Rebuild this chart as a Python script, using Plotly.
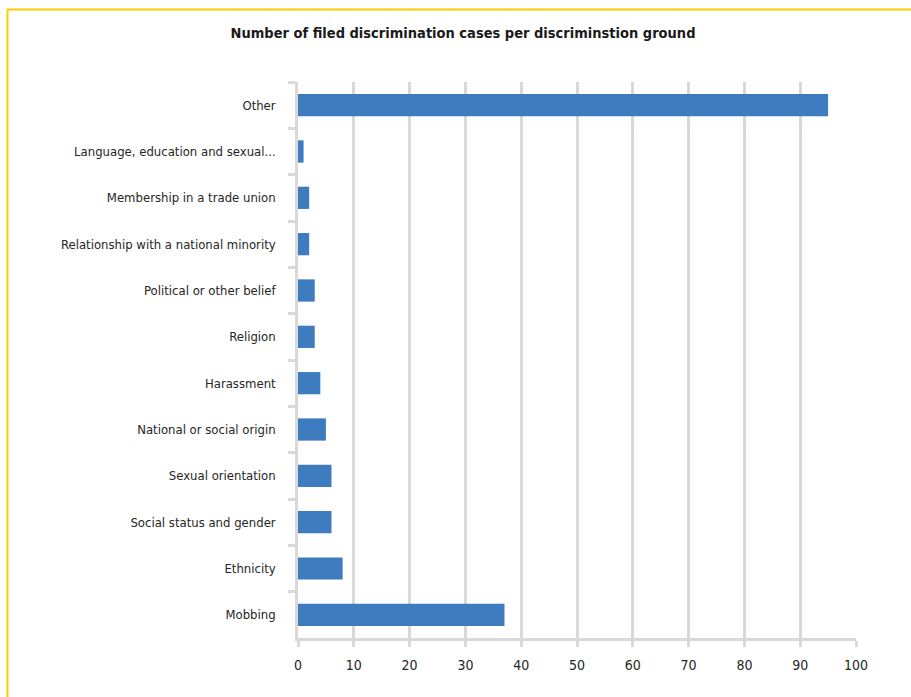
import plotly.graph_objects as go

categories = [
    "Other",
    "Language, education and sexual...",
    "Membership in a trade union",
    "Relationship with a national minority",
    "Political or other belief",
    "Religion",
    "Harassment",
    "National or social origin",
    "Sexual orientation",
    "Social status and gender",
    "Ethnicity",
    "Mobbing",
]
cases = [95, 1, 2, 2, 3, 3, 4, 5, 6, 6, 8, 37]
x_ticks = [0, 10, 20, 30, 40, 50, 60, 70, 80, 90, 100]
title_text = "Number of filed discrimination cases per discriminstion ground"

W, H = 911, 697
ML, MR, MT, MB = 298, 55, 82, 59
FONT = "DejaVu Sans Condensed, Liberation Sans Narrow, sans-serif"
GRID = "#d9d9d9"

fig = go.Figure(
    go.Bar(
        x=cases,
        y=categories,
        orientation="h",
        marker=dict(color="#3E7BBF", line=dict(width=0)),
        hoverinfo="x+y",
    )
)

pw = W - ML - MR
ph = H - MT - MB


def px_to_paper(px, py):
    return (px - ML) / pw, (H - MB - py) / ph


x0, y0 = px_to_paper(7.5, 9.5)
x1, y1 = px_to_paper(W + 20, H + 20)

fig.update_layout(
    width=W,
    height=H,
    margin=dict(l=ML, r=MR, t=MT, b=MB),
    paper_bgcolor="white",
    plot_bgcolor="white",
    bargap=0.52,
    showlegend=False,
    font=dict(family=FONT, size=13, color="#262626"),
    title=dict(
        text="<b>" + title_text + "</b>",
        x=463 / W,
        xanchor="center",
        y=1 - 33 / H,
        yanchor="middle",
        xref="container",
        yref="container",
        font=dict(family=FONT, size=14.5, color="#1a1a1a"),
    ),
    xaxis=dict(
        range=[0, 100],
        tickvals=x_ticks,
        ticktext=[str(v) for v in x_ticks],
        showgrid=True,
        gridcolor=GRID,
        gridwidth=2.5,
        showline=True,
        linecolor=GRID,
        linewidth=2.5,
        ticks="outside",
        ticklen=6,
        tickwidth=2.5,
        tickcolor=GRID,
        ticklabelstandoff=6,
        tickfont=dict(size=14),
        zeroline=False,
        fixedrange=True,
    ),
    yaxis=dict(
        type="category",
        categoryorder="array",
        categoryarray=categories,
        autorange="reversed",
        showgrid=False,
        showline=True,
        linecolor=GRID,
        linewidth=2.5,
        ticks="outside",
        tickson="boundaries",
        ticklen=7,
        tickwidth=2.5,
        tickcolor=GRID,
        ticklabelstandoff=17,
        zeroline=False,
        fixedrange=True,
    ),
    shapes=[
        dict(
            type="rect",
            xref="paper",
            yref="paper",
            x0=x0,
            y0=y1,
            x1=x1,
            y1=y0,
            line=dict(color="#FFCC00", width=2),
            fillcolor="rgba(0,0,0,0)",
            layer="below",
        )
    ],
)

fig.write_html("out.html")
